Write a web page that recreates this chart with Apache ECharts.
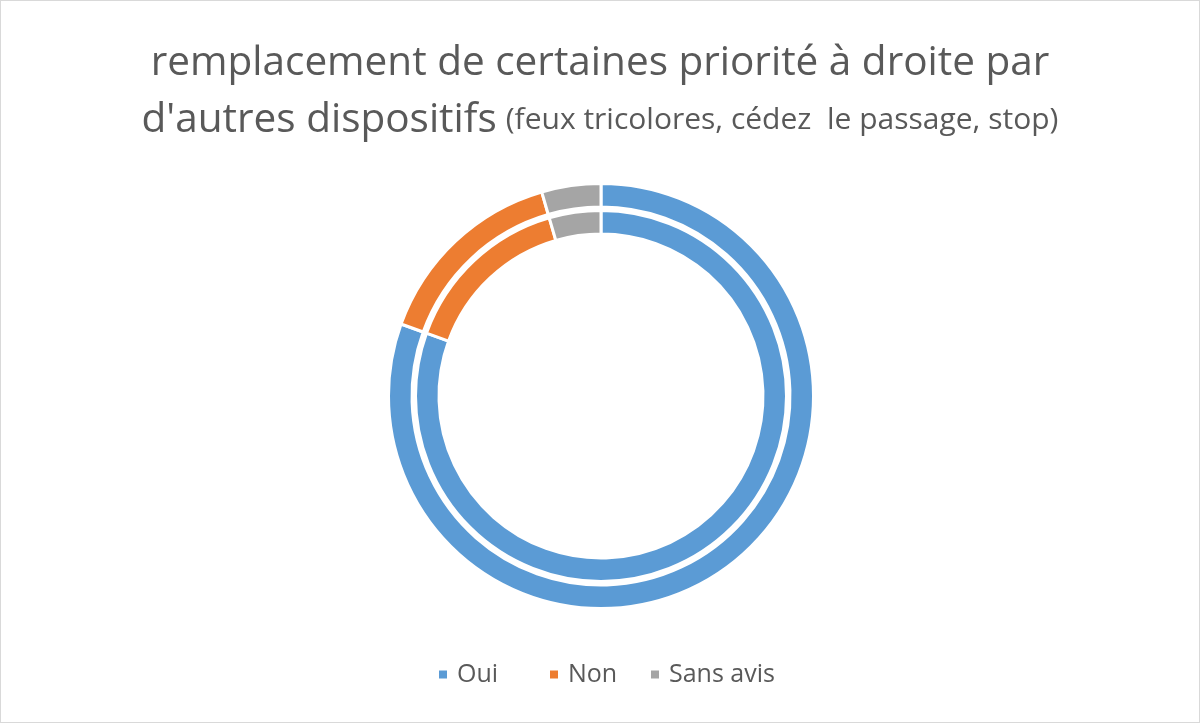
<!DOCTYPE html>
<html lang="fr">
<head>
    <meta charset="UTF-8">
    <title>remplacement de certaines priorité à droite</title>
    <script type="text/javascript" src="https://cdn.jsdelivr.net/npm/echarts@6/dist/echarts.min.js"></script>
    <style>
        html, body { margin: 0; padding: 0; background: #ffffff; }
        #main { width: 1200px; height: 723px; box-sizing: border-box; border: 1px solid #d9d9d9; }
    </style>
</head>
<body>
<div id="main"></div>
<script type="text/javascript">
    // catégories et valeurs (en %)
    var categories = ["Oui", "Non", "Sans avis"];
    var outerValues = [80.5, 15, 4.5];
    var innerValues = [80.5, 15, 4.5];
    var colors = ["#5b9bd5", "#ed7d31", "#a5a5a5"];
    // position horizontale de chaque entrée de légende (comme dans Excel)
    var legendLeft = [436, 547, 648];

    function toData(values) {
        var out = [];
        for (var i = 0; i < categories.length; i++) {
            out.push({ name: categories[i], value: values[i] });
        }
        return out;
    }

    var ringStyle = {
        type: 'pie',
        center: [600, 395],
        startAngle: 90,
        clockwise: true,
        label: { show: false },
        labelLine: { show: false },
        emphasis: { disabled: true },
        itemStyle: { borderColor: '#ffffff', borderWidth: 3 }
    };

    var legends = categories.map(function (name, i) {
        return {
            data: [name],
            top: 661,
            left: legendLeft[i],
            padding: 0,
            icon: 'rect',
            itemWidth: 10,
            itemHeight: 10,
            textStyle: { fontFamily: 'Open Sans', fontSize: 25, color: '#595959', padding: [0, 0, 0, 4] }
        };
    });

    var option = {
        color: colors,
        animation: false,
        title: {
            text: '{a|remplacement de certaines priorité à droite par}\n{a|d\'autres dispositifs} {b|(feux tricolores, cédez  le passage, stop)}',
            left: 'center',
            top: 29,
            textStyle: {
                fontWeight: 'normal',
                rich: {
                    a: { fontFamily: 'Open Sans', fontWeight: 'normal', fontSize: 40.5, color: '#595959', lineHeight: 57 },
                    b: { fontFamily: 'Open Sans', fontWeight: 'normal', fontSize: 30, color: '#595959', lineHeight: 57, padding: [0, 0, 0, 4] }
                }
            }
        },
        legend: legends,
        series: [
            Object.assign({}, ringStyle, { name: 'extérieur', radius: [189, 212.5], data: toData(outerValues) }),
            Object.assign({}, ringStyle, { name: 'intérieur', radius: [162, 185.5], data: toData(innerValues) })
        ]
    };

    var myChart = echarts.init(document.getElementById('main'));
    myChart.setOption(option);
</script>
</body>
</html>
